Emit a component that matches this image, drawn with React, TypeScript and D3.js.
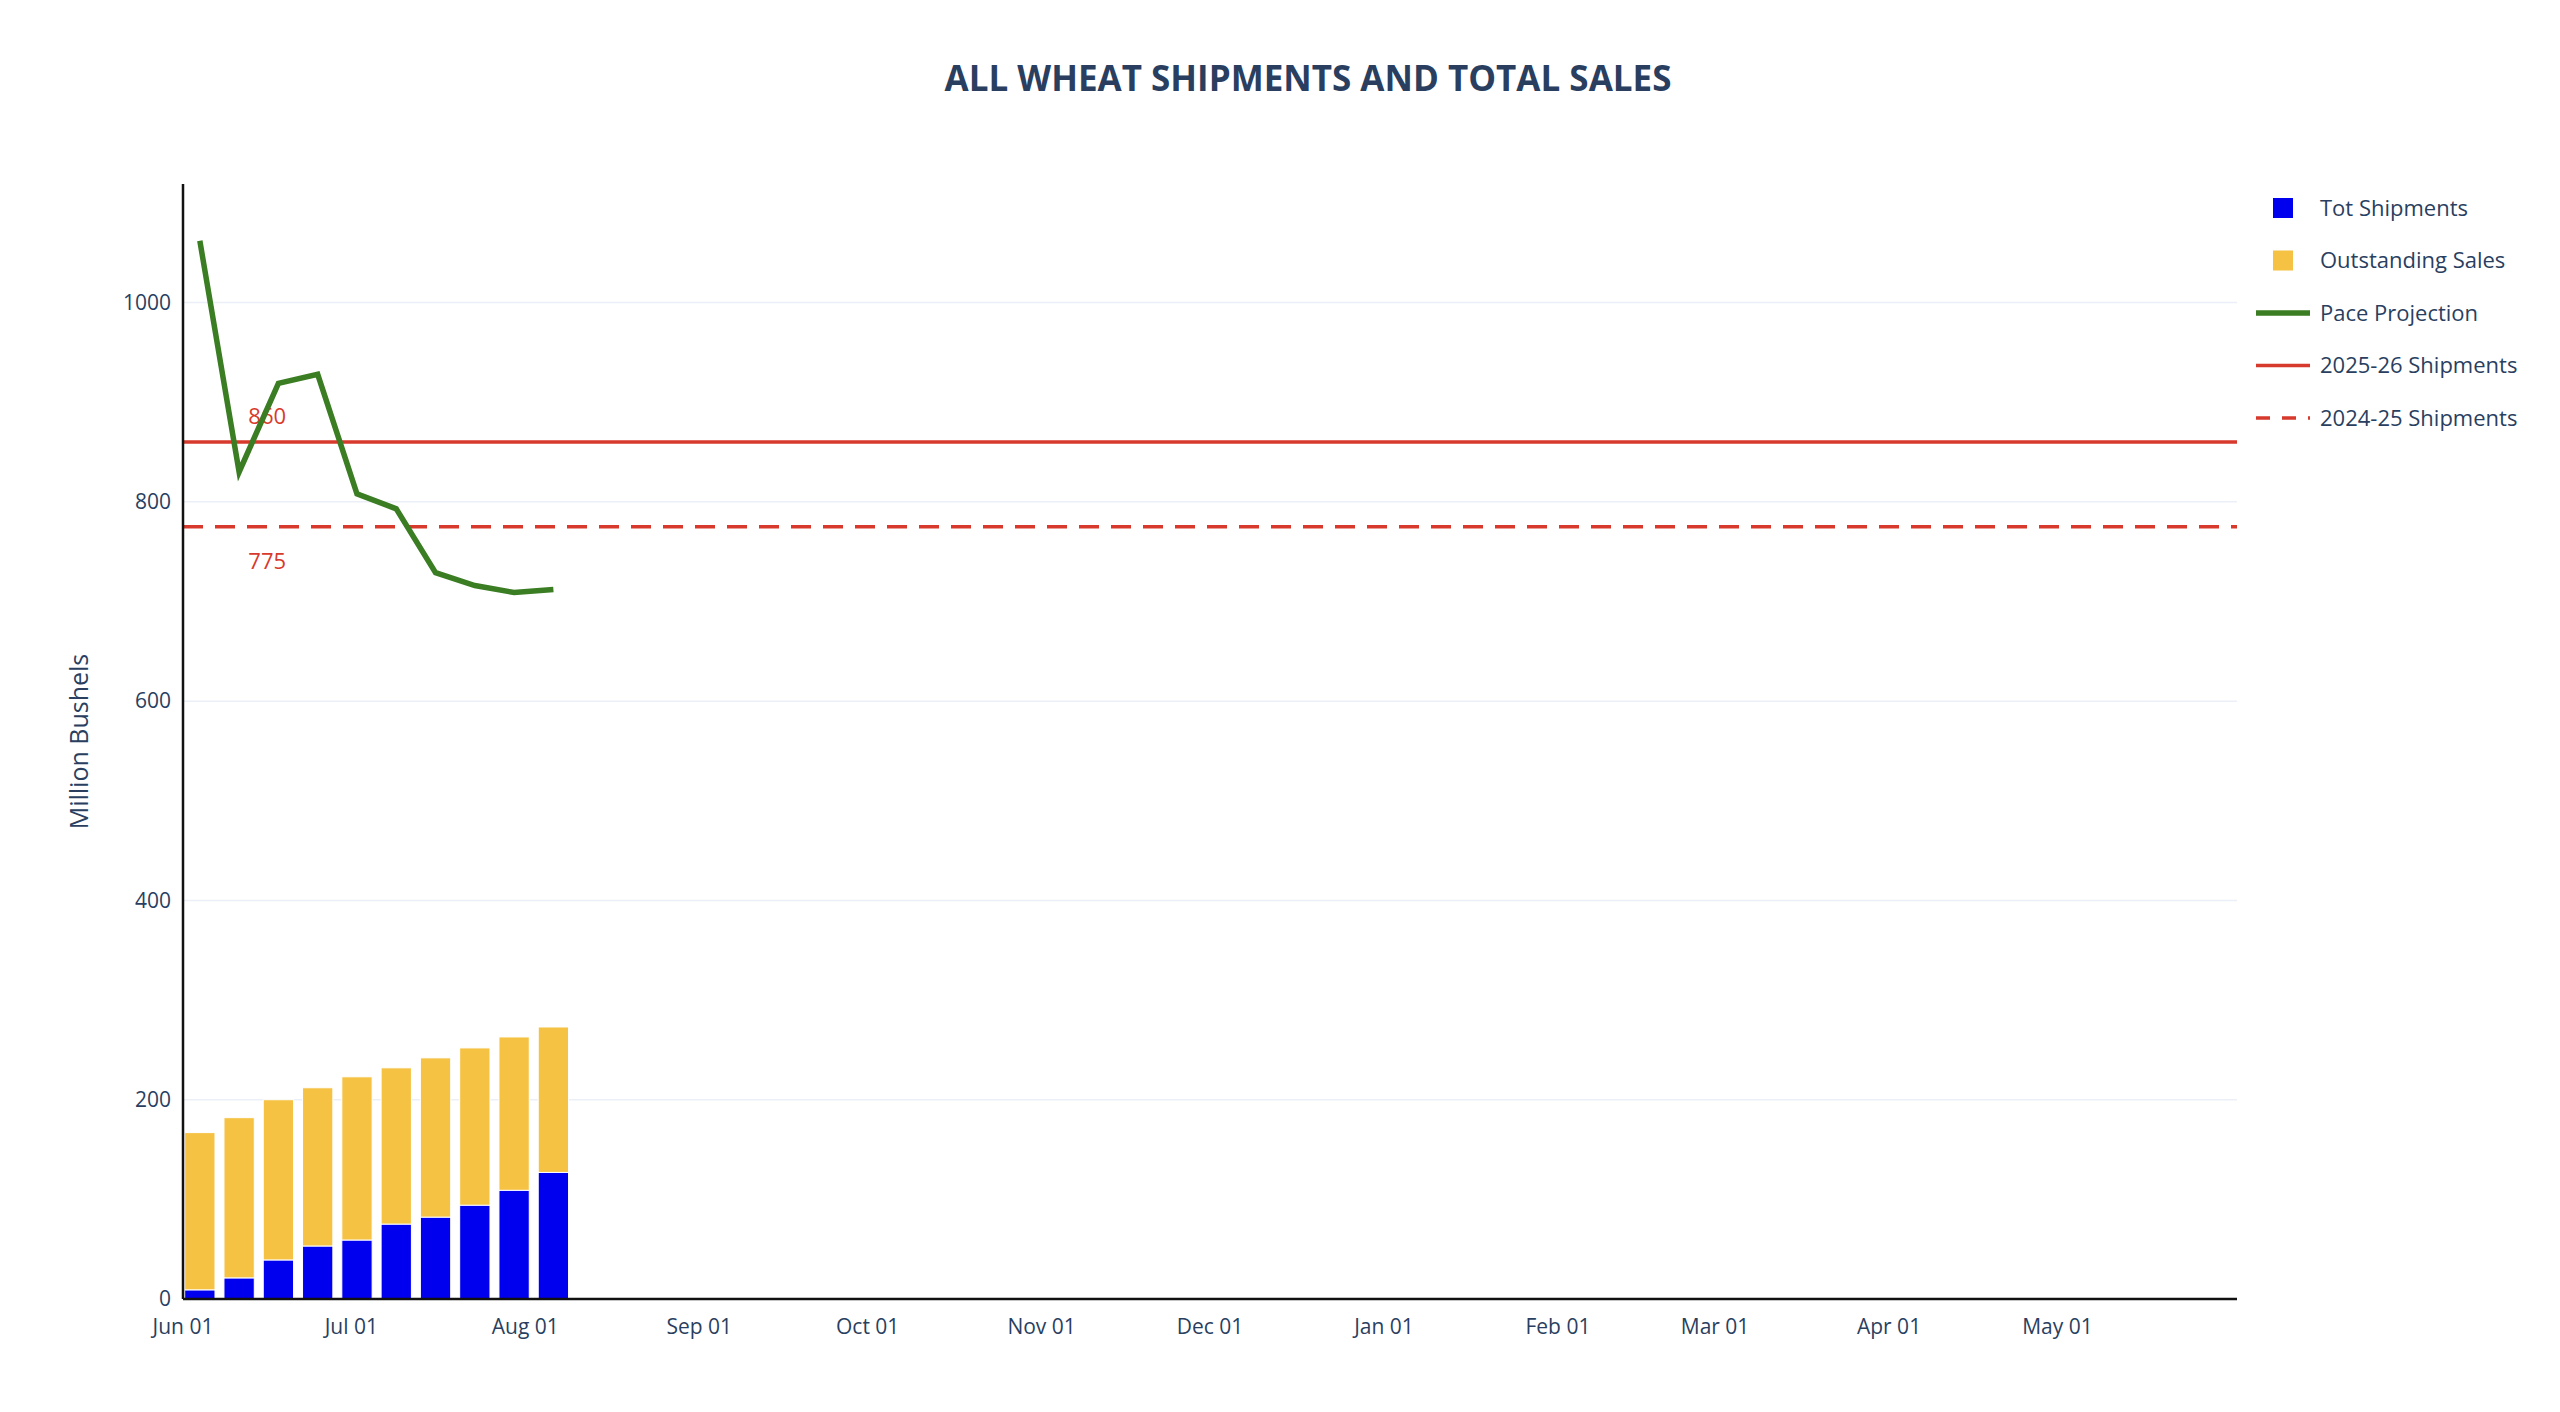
import { useEffect, useRef } from "react";
import * as d3 from "d3";

const weekDates = ["2025-06-04", "2025-06-11", "2025-06-18", "2025-06-25", "2025-07-02", "2025-07-09", "2025-07-16", "2025-07-23", "2025-07-30", "2025-08-06"];
const totShipments = [9, 21, 39, 53, 59, 75, 82, 94, 109, 127];
const totalSales = [167, 182, 200, 212, 223, 232, 242, 252, 263, 273];
const paceProjection = [1062, 830, 919, 928, 808, 793, 729, 716, 709, 712];
const currentShipments = 860;
const priorShipments = 775;
const monthTicks = ["2025-06-01", "2025-07-01", "2025-08-01", "2025-09-01", "2025-10-01", "2025-11-01", "2025-12-01", "2026-01-01", "2026-02-01", "2026-03-01", "2026-04-01", "2026-05-01"];
const yTicks = [0, 200, 400, 600, 800, 1000];

const W = 2560, H = 1412;
const font = "'Open Sans', 'DejaVu Sans', sans-serif";
const ink = "#2a3f5f";

export default function App() {
  const svgRef = useRef<SVGSVGElement>(null);

  useEffect(() => {
    if (!svgRef.current) return;
    const svg = d3.select(svgRef.current);
    svg.selectAll("*").remove();
    const parse = d3.utcParse("%Y-%m-%d");
    const m = { left: 183, right: 2237, top: 184, bottom: 1299 };

    const x = d3.scaleUtc()
      .domain([parse("2025-06-01")!, parse("2026-06-02")!])
      .range([m.left, m.right]);
    const y = d3.scaleLinear().domain([0, 1119]).range([m.bottom, m.top]);
    const dayW = x(parse("2025-06-02")!) - x(parse("2025-06-01")!);
    const barW = dayW * 5.4;

    svg.attr("width", W).attr("height", H).style("background", "#fff");

    // grid
    svg.selectAll(".grid").data(yTicks.filter(d => d > 0)).enter().append("line")
      .attr("x1", m.left).attr("x2", m.right)
      .attr("y1", d => y(d)).attr("y2", d => y(d))
      .attr("stroke", "#ebf0f8").attr("stroke-width", 1.5);

    const dates = weekDates.map(d => parse(d)!);

    // stacked bars
    svg.selectAll(".bar-sales").data(dates).enter().append("rect")
      .attr("x", d => x(d) - barW / 2).attr("width", barW)
      .attr("y", (_, i) => y(totalSales[i]))
      .attr("height", (_, i) => y(totShipments[i]) - y(totalSales[i]))
      .attr("fill", "#f5c243").attr("stroke", "#fff").attr("stroke-width", 1);
    svg.selectAll(".bar-ship").data(dates).enter().append("rect")
      .attr("x", d => x(d) - barW / 2).attr("width", barW)
      .attr("y", (_, i) => y(totShipments[i]))
      .attr("height", (_, i) => y(0) - y(totShipments[i]))
      .attr("fill", "#0000ee").attr("stroke", "#fff").attr("stroke-width", 1);

    // reference lines
    svg.append("line").attr("x1", m.left).attr("x2", m.right)
      .attr("y1", y(currentShipments)).attr("y2", y(currentShipments))
      .attr("stroke", "#d73a2c").attr("stroke-width", 3.5);
    svg.append("line").attr("x1", m.left).attr("x2", m.right)
      .attr("y1", y(priorShipments)).attr("y2", y(priorShipments))
      .attr("stroke", "#d73a2c").attr("stroke-width", 3.5).attr("stroke-dasharray", "20,12");
    const labelX = x(parse("2025-06-16")!);
    svg.append("text").attr("x", labelX).attr("y", y(currentShipments) - 18)
      .attr("text-anchor", "middle").attr("fill", "#d73a2c").attr("font-size", 22).attr("font-family", font)
      .text(String(currentShipments));
    svg.append("text").attr("x", labelX).attr("y", y(priorShipments) + 42)
      .attr("text-anchor", "middle").attr("fill", "#d73a2c").attr("font-size", 22).attr("font-family", font)
      .text(String(priorShipments));

    // pace line
    const line = d3.line<number>().x((_, i) => x(dates[i])).y(d => y(d));
    svg.append("path").datum(paceProjection).attr("d", line)
      .attr("fill", "none").attr("stroke", "#3a7d22").attr("stroke-width", 5.5);

    // axes
    svg.append("line").attr("x1", m.left).attr("x2", m.left).attr("y1", m.top).attr("y2", m.bottom)
      .attr("stroke", "#111").attr("stroke-width", 2.5);
    svg.append("line").attr("x1", m.left).attr("x2", m.right).attr("y1", m.bottom).attr("y2", m.bottom)
      .attr("stroke", "#111").attr("stroke-width", 2.5);

    svg.selectAll(".ytick").data(yTicks).enter().append("text")
      .attr("x", m.left - 12).attr("y", d => y(d)).attr("dy", "0.35em")
      .attr("text-anchor", "end").attr("fill", ink).attr("font-size", 21).attr("font-family", font)
      .text(d => String(d));
    const fmt = d3.utcFormat("%b %d");
    svg.selectAll(".xtick").data(monthTicks.map(d => parse(d)!)).enter().append("text")
      .attr("x", d => x(d)).attr("y", m.bottom + 35)
      .attr("text-anchor", "middle").attr("fill", ink).attr("font-size", 21).attr("font-family", font)
      .text(d => fmt(d));

    svg.append("text").attr("transform", `translate(88,${(m.top + m.bottom) / 2}) rotate(-90)`)
      .attr("text-anchor", "middle").attr("fill", ink).attr("font-size", 25).attr("font-family", font)
      .text("Million Bushels");

    svg.append("text").attr("x", 1308).attr("y", 91)
      .attr("text-anchor", "middle").attr("fill", ink).attr("font-size", 35).attr("font-weight", 700).attr("font-family", font)
      .text("ALL WHEAT SHIPMENTS AND TOTAL SALES");

    // legend
    const items = [
      { name: "Tot Shipments", kind: "box", color: "#0000ee" },
      { name: "Outstanding Sales", kind: "box", color: "#f5c243" },
      { name: "Pace Projection", kind: "line", color: "#3a7d22", w: 5.5, dash: "" },
      { name: "2025-26 Shipments", kind: "line", color: "#d73a2c", w: 3.5, dash: "" },
      { name: "2024-25 Shipments", kind: "line", color: "#d73a2c", w: 3.5, dash: "14,12" },
    ];
    const lg = svg.append("g");
    items.forEach((it, i) => {
      const cy = 208 + i * 52.5;
      if (it.kind === "box") {
        lg.append("rect").attr("x", 2273).attr("y", cy - 10).attr("width", 20).attr("height", 20).attr("fill", it.color);
      } else {
        lg.append("line").attr("x1", 2256).attr("x2", 2310).attr("y1", cy).attr("y2", cy)
          .attr("stroke", it.color).attr("stroke-width", it.w!).attr("stroke-dasharray", it.dash || null);
      }
      lg.append("text").attr("x", 2320).attr("y", cy).attr("dy", "0.35em")
        .attr("fill", ink).attr("font-size", 22).attr("font-family", font).text(it.name);
    });
  }, []);

  return (
    <div style={{ position: "absolute", left: 0, top: 0 }}>
      <svg ref={svgRef} style={{ display: "block" }} />
    </div>
  );
}
